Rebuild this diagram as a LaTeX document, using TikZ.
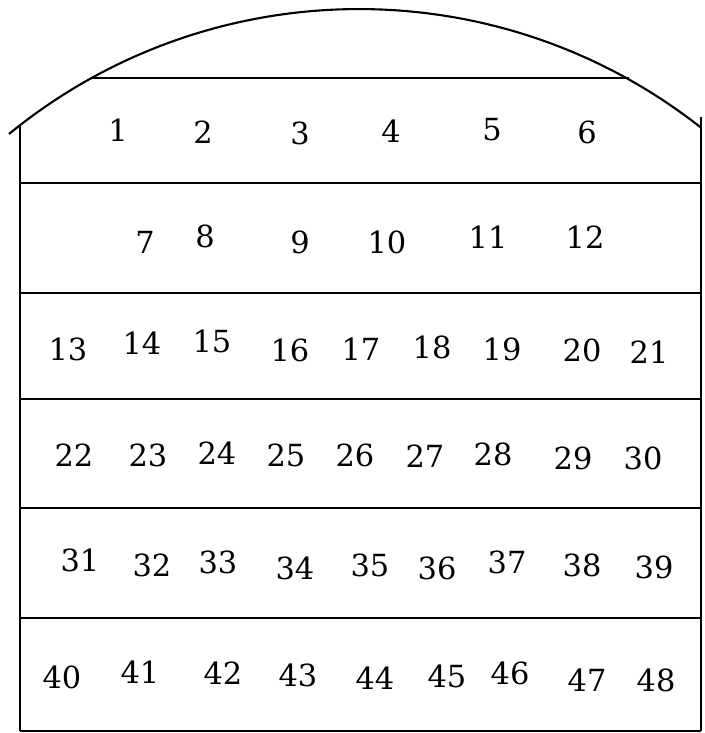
\documentclass[tikz,border=0pt]{standalone}
\usepackage{fontspec}
\setmainfont{DejaVu Serif}
\usetikzlibrary{positioning}

\begin{document}
\begin{tikzpicture}[
        x=0.03cm, y=-0.03cm,
        wall/.style = {draw=black, line width=1.8pt},
        row_line/.style = {draw=black, line width=1.6pt},
        seat/.style = {inner sep=0pt, font=\fontsize{26}{30}\selectfont}
    ]
    \useasboundingbox (0,0) rectangle (704,733);

    % Outline with curved top
    \draw [wall] (9,134) arc[start angle=230.7, end angle=308.2, radius=552.5];
    \draw [wall] (20,126) -- (20,731);
    \draw [wall] (701,117) -- (701,731);

    % Row dividers
    \coordinate (top_l) at (90.8,78);
    \coordinate (top_r) at (629.2,78);
    \draw [row_line] (top_l) -- (top_r);
    \foreach \ry in {183, 293, 399, 508, 618, 731}
        \draw [row_line] (20,\ry) -- (701,\ry);

    % Seat numbers
    \foreach \n/\px/\py in {1/118/130, 2/203/132, 3/300/133, 4/391/131, 5/492/130, 6/587/132,
            7/145/242, 8/205/236, 9/300/242, 10/387/242, 11/488/237, 12/585/237,
            13/68/349, 14/142/343, 15/212/341, 16/290/350, 17/361/349, 18/432/347, 19/502/349, 20/582/350, 21/649/352,
            22/74/455, 23/148/455, 24/217/453, 25/286/455, 26/355/455, 27/425/456, 28/493/454, 29/573/458, 30/643/458,
            31/80/560, 32/152/565, 33/218/562, 34/295/568, 35/370/565, 36/437/568, 37/507/562, 38/582/565, 39/654/567,
            40/62/677, 41/140/672, 42/223/673, 43/298/675, 44/375/678, 45/447/676, 46/510/673, 47/587/680, 48/656/680}
        \node [seat] (s\n) at (\px,\py) {\n};

\end{tikzpicture}
\end{document}
